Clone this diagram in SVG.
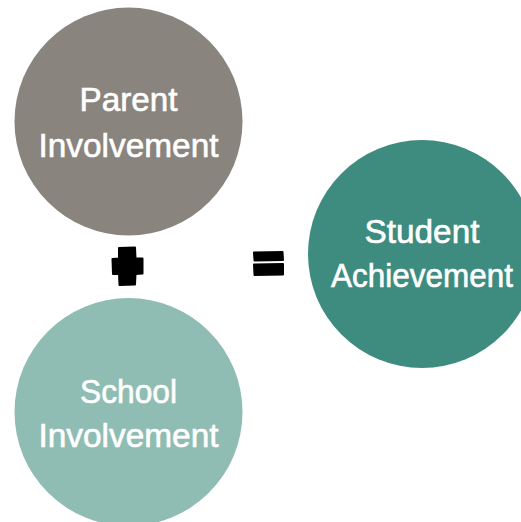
<svg xmlns="http://www.w3.org/2000/svg" width="521" height="522" viewBox="0 0 521 522">
  <style>
    .lbl { font-family: "Liberation Sans", Arial, sans-serif; font-size: 33px; fill: #ffffff; stroke: #ffffff; stroke-width: 0.6; text-anchor: middle; }
    .op { fill: #000000; stroke: #000000; stroke-width: 2; stroke-linejoin: round; }
  </style>
  <rect width="521" height="522" fill="#ffffff"/>
  <g id="parent">
    <circle cx="128.5" cy="121.5" r="114" fill="#8a847f"/>
    <text class="lbl" x="128.5" y="111" textLength="98" lengthAdjust="spacingAndGlyphs">Parent</text>
    <text class="lbl" x="128.5" y="157" textLength="180" lengthAdjust="spacingAndGlyphs">Involvement</text>
  </g>
  <g id="school">
    <circle cx="128.5" cy="412" r="114" fill="#8fbdb4"/>
    <text class="lbl" x="128.5" y="403" textLength="97" lengthAdjust="spacingAndGlyphs">School</text>
    <text class="lbl" x="128.5" y="447" textLength="180" lengthAdjust="spacingAndGlyphs">Involvement</text>
  </g>
  <g id="student">
    <circle cx="422" cy="254" r="114" fill="#3d8c7f"/>
    <text class="lbl" x="422" y="243" textLength="115" lengthAdjust="spacingAndGlyphs">Student</text>
    <text class="lbl" x="422" y="287" textLength="182" lengthAdjust="spacingAndGlyphs">Achievement</text>
  </g>
  <g id="operators">
    <path class="op" d="M119 248 L135 247.5 L135.5 258.5 L142.5 258.5 L142.5 273.5 L135.5 274 L135 284.5 L119.5 285 L119 274 L113 274 L112.5 259 L119 258.5 Z"/>
    <path class="op" d="M254 252.5 L282.5 252 L283 260 L254.5 260.5 Z"/>
    <path class="op" d="M254 264.5 L283 264 L283 274.5 L254.5 275 Z"/>
  </g>
</svg>
